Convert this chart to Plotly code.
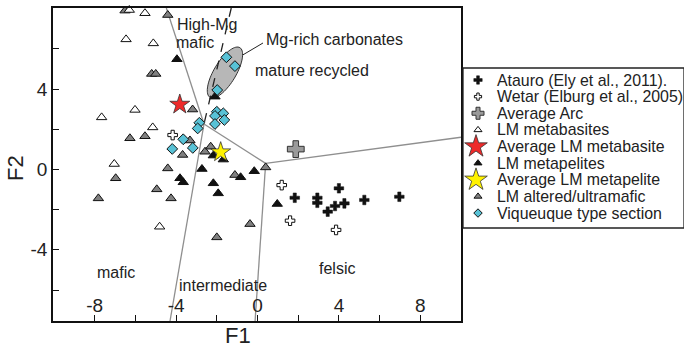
import math
import plotly.graph_objects as go

# ---------------- data (F1, F2 discriminant scores) ----------------
atauro_f1 = [1.83, 2.94, 2.94, 4.00, 3.81, 3.45, 4.27, 5.25, 6.97]
atauro_f2 = [-1.41, -1.41, -1.66, -0.94, -1.82, -2.10, -1.69, -1.52, -1.36]

wetar_f1 = [-4.17, 1.19, 1.60, 3.86]
wetar_f2 = [1.71, -0.78, -2.55, -3.01]

avg_arc_f1 = [1.88]
avg_arc_f2 = [1.01]

metabasite_f1 = [-6.30, -5.53, -6.46, -5.12, -7.66, -6.02, -5.15, -7.04, -4.81]
metabasite_f2 = [7.93, 7.77, 6.47, 6.27, 2.59, 2.96, 2.09, 0.27, -2.85]

avg_metabasite_f1 = [-3.82]
avg_metabasite_f2 = [3.23]

metapelite_f1 = [-3.96, -2.09, -2.17, -1.68, -2.73, -3.81, -3.65, -2.17, -1.93, -0.83, -0.16, 0.97]
metapelite_f2 = [5.48, 3.62, 0.69, 0.49, 0.02, -0.44, -0.64, -0.69, -1.19, -0.39, -0.09, -1.72]

avg_metapelite_f1 = [-1.81]
avg_metapelite_f2 = [0.86]

altered_f1 = [-6.51, -4.41, -5.20, -5.00, -6.27, -5.53, -3.19, -3.32, -3.68, -2.58, -2.30,
              -4.41, -6.97, -7.82, -4.95, -4.25, -2.00, -1.11, 0.40, -0.37]
altered_f2 = [7.90, 7.68, 4.75, 4.75, 1.55, 1.65, 2.98, 1.44, 0.72, 0.88, 1.13,
              0.05, -0.44, -1.44, -0.99, -1.44, -3.38, -0.28, 0.10, -2.72]

viqueuque_f1 = [-1.53, -1.11, -1.98, -2.00, -1.68, -2.09, -1.63, -2.09, -2.86, -2.94, -3.65, -3.18, -4.19]
viqueuque_f2 = [5.58, 5.14, 3.95, 2.87, 2.79, 2.66, 2.46, 2.26, 2.32, 2.04, 1.50, 1.07, 1.02]

# field boundaries (F1, F2)
junction = (-2.63, 2.26)
vertex = (0.40, 0.30)
boundary_segments = [
    [(-4.48, 8.03), junction],
    [junction, (-4.30, -7.54)],
    [junction, vertex],
    [vertex, (10.0, 1.60)],
    [vertex, (-0.12, -7.54)],
]
dashed_segment = [(-1.29, 8.03), junction]

field_labels = ["High-Mg", "mafic", "Mg-rich carbonates", "mature recycled",
                "mafic", "intermediate", "felsic"]
field_label_f1 = [-4.06, -4.12, 0.32, -0.21, -6.95, -3.97, 3.91]
field_label_f2 = [7.23, 6.30, 6.47, 4.90, -5.14, -5.75, -4.91]
field_label_anchor = ["left", "left", "left", "left", "center", "left", "center"]

legend_labels = ["Atauro (Ely et al., 2011).", "Wetar (Elburg et al., 2005)", "Average Arc",
                 "LM metabasites", "Average LM metabasite", "LM metapelites",
                 "Average LM metapelite", "LM altered/ultramafic", "Viqueuque type section"]

x_ticks = [-8, -4, 0, 4, 8]
x_minor = [-6, -2, 2, 6]
y_ticks = [-4, 0, 4]
y_minor = [-6, -2, 2, 6]

# ---------------- styles ----------------
FONT = "Liberation Sans, Arial, Helvetica, sans-serif"
GREY_TRI = "#808080"
CYAN = "#58c2d6"

styles = [
    # name, x, y, symbol, size, fill, line colour, line width, legend size
    ("LM altered/ultramafic", altered_f1, altered_f2, "triangle-up", 9, GREY_TRI, "#111", 1.0, 7),
    ("LM metabasites", metabasite_f1, metabasite_f2, "triangle-up", 9, "white", "#111", 1.0, 7),
    ("LM metapelites", metapelite_f1, metapelite_f2, "triangle-up", 9, "#111", "#111", 1.0, 7),
    ("Viqueuque type section", viqueuque_f1, viqueuque_f2, "diamond", 8.3, CYAN, "#111", 1.0, 6.5),
    ("Atauro (Ely et al., 2011).", atauro_f1, atauro_f2, "cross", 8, "#111", "#111", 0.5, 7),
    ("Wetar (Elburg et al., 2005)", wetar_f1, wetar_f2, "cross", 8, "white", "#111", 1.0, 6),
    ("Average Arc", avg_arc_f1, avg_arc_f2, "cross", 14, "#9a9a9a", "#333", 1.0, 10),
    ("Average LM metabasite", avg_metabasite_f1, avg_metabasite_f2, "star", 15, "#ee2a2a", "#333", 0.8, 17),
    ("Average LM metapelite", avg_metapelite_f1, avg_metapelite_f2, "star", 15, "#fff200", "#333", 0.8, 17),
]

fig = go.Figure()

for name, xs, ys, sym, size, fill, lc, lw, _ in styles:
    fig.add_trace(go.Scatter(
        x=xs, y=ys, mode="markers", name=name, showlegend=False,
        marker=dict(symbol=sym, size=size, color=fill, line=dict(color=lc, width=lw)),
        cliponaxis=False, xaxis="x", yaxis="y"))

shapes = []
for (a, b) in boundary_segments:
    shapes.append(dict(type="line", xref="x", yref="y", x0=a[0], y0=a[1], x1=b[0], y1=b[1],
                       line=dict(color="#8f8f8f", width=1.3), layer="below"))

# ellipse around Mg-rich carbonate samples (centre in data units, axes in pixels)
sx, sy = 20.35, 20.1
cx, cy = -1.60, 4.82
a_px, b_px, th = 29.0, 11.0, math.radians(59)
pts = []
for k in range(73):
    t = 2 * math.pi * k / 72
    dx = a_px * math.cos(t) * math.cos(th) - b_px * math.sin(t) * math.sin(th)
    dy = a_px * math.cos(t) * math.sin(th) + b_px * math.sin(t) * math.cos(th)
    pts.append((cx + dx / sx, cy + dy / sy))
path = "M " + " L ".join(f"{p[0]:.4f},{p[1]:.4f}" for p in pts) + " Z"
shapes.append(dict(type="path", xref="x", yref="y", path=path, fillcolor="#b7b7b7",
                   line=dict(color="#333", width=1), layer="below"))
shapes.append(dict(type="line", xref="x", yref="y", x0=-0.73, y0=5.69, x1=0.27, y1=6.29,
                   line=dict(color="#222", width=1), layer="below"))
shapes.append(dict(type="line", xref="x", yref="y", x0=dashed_segment[0][0], y0=dashed_segment[0][1],
                   x1=dashed_segment[1][0], y1=dashed_segment[1][1],
                   line=dict(color="#222", width=1.3, dash="dash"), layer="below"))

annotations = []
for txt, fx, fy, anc in zip(field_labels, field_label_f1, field_label_f2, field_label_anchor):
    annotations.append(dict(text=txt, x=fx, y=fy, xref="x", yref="y", xanchor=anc,
                            yanchor="middle", showarrow=False,
                            font=dict(family=FONT, size=16, color="#222")))

W, H = 691, 347
ml, mr, mt, mb = 53, 7, 8, 26
plot_right = 461
pw, ph = W - ml - mr, H - mt - mb
xdom = (plot_right - ml) / pw

# axis titles (paper coordinates)
annotations.append(dict(text="F1", x=(238 - ml) / pw, y=(H - mb - 335) / ph,
                        xref="paper", yref="paper", showarrow=False,
                        xanchor="center", yanchor="middle",
                        font=dict(family=FONT, size=22, color="#222")))
annotations.append(dict(text="F2", x=(15 - ml) / pw, y=(H - mb - 168) / ph,
                        xref="paper", yref="paper", showarrow=False,
                        textangle=-90, xanchor="center", yanchor="middle",
                        font=dict(family=FONT, size=22, color="#222")))

# manual legend (pixel-space overlay axes x2/y2)
style_by_name = {s[0]: s for s in styles}
shapes.append(dict(type="rect", xref="x2", yref="y2", x0=463, x1=684, y0=68, y1=228,
                   line=dict(color="#222", width=1.3), fillcolor="white", layer="below"))
for i, lab in enumerate(legend_labels):
    yy = 80 + i * 16.63
    name, _, _, sym, _, fill, lc, lw, lsize = style_by_name[lab]
    xx = 476 if sym == "star" else 478
    fig.add_trace(go.Scatter(x=[xx], y=[yy], mode="markers", showlegend=False,
                             marker=dict(symbol=sym, size=lsize, color=fill,
                                         line=dict(color=lc, width=lw)),
                             xaxis="x2", yaxis="y2", cliponaxis=False, hoverinfo="skip"))
    annotations.append(dict(text=lab, x=495, y=yy, xref="x2", yref="y2", xanchor="left",
                            yanchor="middle", showarrow=False,
                            font=dict(family=FONT, size=15.9, color="#222")))

fig.update_layout(
    width=W, height=H, autosize=False,
    margin=dict(l=ml, r=mr, t=mt, b=mb, pad=0),
    paper_bgcolor="white", plot_bgcolor="rgba(0,0,0,0)",
    showlegend=False,
    font=dict(family=FONT, color="#222"),
    shapes=shapes, annotations=annotations,
    xaxis=dict(domain=[0, xdom], range=[-10.05, 10.0], showgrid=False, zeroline=False,
               showline=True, mirror=True, linecolor="#111", linewidth=1.5,
               ticks="inside", ticklen=6, tickwidth=1.3, tickcolor="#111",
               tickvals=x_ticks, ticktext=[str(v) for v in x_ticks],
               ticklabelposition="inside", tickfont=dict(family=FONT, size=19, color="#222"),
               minor=dict(tickvals=x_minor, ticks="inside", ticklen=6, tickwidth=1.3,
                          tickcolor="#111", showgrid=False),
               anchor="y"),
    yaxis=dict(domain=[0, 1], range=[-7.54, 8.03], showgrid=False, zeroline=False,
               showline=True, mirror=True, linecolor="#111", linewidth=1.5,
               ticks="inside", ticklen=6, tickwidth=1.3, tickcolor="#111",
               tickvals=y_ticks, ticktext=[str(v) for v in y_ticks],
               tickfont=dict(family=FONT, size=19, color="#222"),
               minor=dict(tickvals=y_minor, ticks="inside", ticklen=6, tickwidth=1.3,
                          tickcolor="#111", showgrid=False),
               anchor="x"),
    xaxis2=dict(domain=[0, 1], range=[ml, W - mr], visible=False, anchor="y2", fixedrange=True),
    yaxis2=dict(domain=[0, 1], range=[H - mb, mt], visible=False, anchor="x2", fixedrange=True),
)

fig.write_html("out.html", config={"displayModeBar": False},
               post_script="document.body.style.margin='0';document.body.style.padding='0';")
